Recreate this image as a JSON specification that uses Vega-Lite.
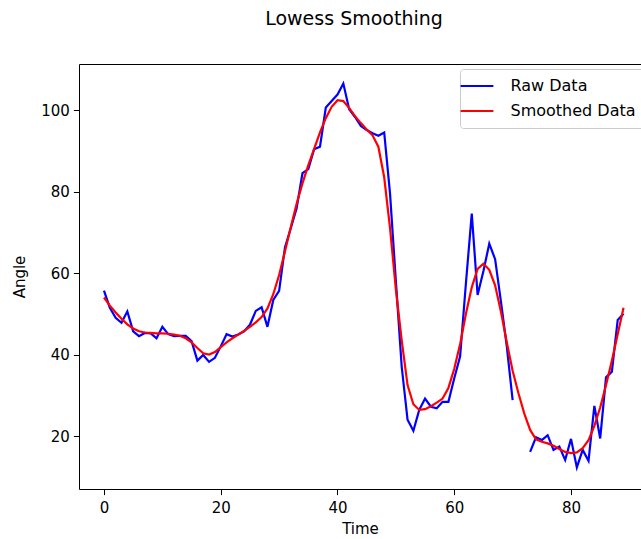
{
  "$schema": "https://vega.github.io/schema/vega-lite/v6.json",
  "width": 562,
  "height": 425,
  "autosize": {"type": "none"},
  "padding": {"left": 79, "top": 64, "right": 0, "bottom": 50},
  "background": "white",
  "title": {"text": "Lowess Smoothing", "anchor": "middle", "frame": "group", "dx": -6, "baseline": "alphabetic", "offset": 20, "fontSize": 19, "fontWeight": "normal", "font": "DejaVu Sans", "color": "black"},
  "datasets": {
    "raw": [
      {"time": 0, "angle": 55.7, "series": "Raw Data"},
      {"time": 1, "angle": 51.5, "series": "Raw Data"},
      {"time": 2, "angle": 49.0, "series": "Raw Data"},
      {"time": 3, "angle": 47.8, "series": "Raw Data"},
      {"time": 4, "angle": 50.6, "series": "Raw Data"},
      {"time": 5, "angle": 45.7, "series": "Raw Data"},
      {"time": 6, "angle": 44.5, "series": "Raw Data"},
      {"time": 7, "angle": 45.3, "series": "Raw Data"},
      {"time": 8, "angle": 45.2, "series": "Raw Data"},
      {"time": 9, "angle": 44.0, "series": "Raw Data"},
      {"time": 10, "angle": 46.8, "series": "Raw Data"},
      {"time": 11, "angle": 45.0, "series": "Raw Data"},
      {"time": 12, "angle": 44.5, "series": "Raw Data"},
      {"time": 13, "angle": 44.6, "series": "Raw Data"},
      {"time": 14, "angle": 44.6, "series": "Raw Data"},
      {"time": 15, "angle": 43.3, "series": "Raw Data"},
      {"time": 16, "angle": 38.5, "series": "Raw Data"},
      {"time": 17, "angle": 39.9, "series": "Raw Data"},
      {"time": 18, "angle": 38.2, "series": "Raw Data"},
      {"time": 19, "angle": 39.2, "series": "Raw Data"},
      {"time": 20, "angle": 42.0, "series": "Raw Data"},
      {"time": 21, "angle": 45.0, "series": "Raw Data"},
      {"time": 22, "angle": 44.4, "series": "Raw Data"},
      {"time": 23, "angle": 44.9, "series": "Raw Data"},
      {"time": 24, "angle": 45.7, "series": "Raw Data"},
      {"time": 25, "angle": 47.3, "series": "Raw Data"},
      {"time": 26, "angle": 50.7, "series": "Raw Data"},
      {"time": 27, "angle": 51.6, "series": "Raw Data"},
      {"time": 28, "angle": 46.8, "series": "Raw Data"},
      {"time": 29, "angle": 53.4, "series": "Raw Data"},
      {"time": 30, "angle": 55.6, "series": "Raw Data"},
      {"time": 31, "angle": 66.3, "series": "Raw Data"},
      {"time": 32, "angle": 71.0, "series": "Raw Data"},
      {"time": 33, "angle": 75.9, "series": "Raw Data"},
      {"time": 34, "angle": 84.5, "series": "Raw Data"},
      {"time": 35, "angle": 85.5, "series": "Raw Data"},
      {"time": 36, "angle": 90.4, "series": "Raw Data"},
      {"time": 37, "angle": 91.0, "series": "Raw Data"},
      {"time": 38, "angle": 100.6, "series": "Raw Data"},
      {"time": 39, "angle": 102.2, "series": "Raw Data"},
      {"time": 40, "angle": 103.8, "series": "Raw Data"},
      {"time": 41, "angle": 106.5, "series": "Raw Data"},
      {"time": 42, "angle": 100.2, "series": "Raw Data"},
      {"time": 43, "angle": 98.3, "series": "Raw Data"},
      {"time": 44, "angle": 96.1, "series": "Raw Data"},
      {"time": 45, "angle": 95.1, "series": "Raw Data"},
      {"time": 46, "angle": 94.3, "series": "Raw Data"},
      {"time": 47, "angle": 93.7, "series": "Raw Data"},
      {"time": 48, "angle": 94.5, "series": "Raw Data"},
      {"time": 49, "angle": 79.5, "series": "Raw Data"},
      {"time": 50, "angle": 58.0, "series": "Raw Data"},
      {"time": 51, "angle": 37.0, "series": "Raw Data"},
      {"time": 52, "angle": 24.0, "series": "Raw Data"},
      {"time": 53, "angle": 21.3, "series": "Raw Data"},
      {"time": 54, "angle": 26.4, "series": "Raw Data"},
      {"time": 55, "angle": 29.2, "series": "Raw Data"},
      {"time": 56, "angle": 27.2, "series": "Raw Data"},
      {"time": 57, "angle": 26.8, "series": "Raw Data"},
      {"time": 58, "angle": 28.4, "series": "Raw Data"},
      {"time": 59, "angle": 28.4, "series": "Raw Data"},
      {"time": 60, "angle": 34.2, "series": "Raw Data"},
      {"time": 61, "angle": 39.5, "series": "Raw Data"},
      {"time": 62, "angle": 57.5, "series": "Raw Data"},
      {"time": 63, "angle": 74.6, "series": "Raw Data"},
      {"time": 64, "angle": 54.6, "series": "Raw Data"},
      {"time": 65, "angle": 60.5, "series": "Raw Data"},
      {"time": 66, "angle": 67.2, "series": "Raw Data"},
      {"time": 67, "angle": 63.4, "series": "Raw Data"},
      {"time": 68, "angle": 53.0, "series": "Raw Data"},
      {"time": 69, "angle": 42.0, "series": "Raw Data"},
      {"time": 70, "angle": 28.8, "series": "Raw Data"},
      {"time": 71, "angle": null, "series": "Raw Data"},
      {"time": 72, "angle": null, "series": "Raw Data"},
      {"time": 73, "angle": 16.1, "series": "Raw Data"},
      {"time": 74, "angle": 19.7, "series": "Raw Data"},
      {"time": 75, "angle": 19.0, "series": "Raw Data"},
      {"time": 76, "angle": 20.2, "series": "Raw Data"},
      {"time": 77, "angle": 16.6, "series": "Raw Data"},
      {"time": 78, "angle": 17.4, "series": "Raw Data"},
      {"time": 79, "angle": 14.1, "series": "Raw Data"},
      {"time": 80, "angle": 19.3, "series": "Raw Data"},
      {"time": 81, "angle": 12.3, "series": "Raw Data"},
      {"time": 82, "angle": 16.6, "series": "Raw Data"},
      {"time": 83, "angle": 13.9, "series": "Raw Data"},
      {"time": 84, "angle": 27.4, "series": "Raw Data"},
      {"time": 85, "angle": 19.4, "series": "Raw Data"},
      {"time": 86, "angle": 34.4, "series": "Raw Data"},
      {"time": 87, "angle": 35.8, "series": "Raw Data"},
      {"time": 88, "angle": 48.5, "series": "Raw Data"},
      {"time": 89, "angle": 50.0, "series": "Raw Data"}
    ],
    "smoothed": [
      {"time": 0, "angle": 54.0, "series": "Smoothed Data"},
      {"time": 1, "angle": 52.0, "series": "Smoothed Data"},
      {"time": 2, "angle": 50.3, "series": "Smoothed Data"},
      {"time": 3, "angle": 48.8, "series": "Smoothed Data"},
      {"time": 4, "angle": 47.4, "series": "Smoothed Data"},
      {"time": 5, "angle": 46.4, "series": "Smoothed Data"},
      {"time": 6, "angle": 45.7, "series": "Smoothed Data"},
      {"time": 7, "angle": 45.4, "series": "Smoothed Data"},
      {"time": 8, "angle": 45.3, "series": "Smoothed Data"},
      {"time": 9, "angle": 45.2, "series": "Smoothed Data"},
      {"time": 10, "angle": 45.2, "series": "Smoothed Data"},
      {"time": 11, "angle": 45.1, "series": "Smoothed Data"},
      {"time": 12, "angle": 44.9, "series": "Smoothed Data"},
      {"time": 13, "angle": 44.6, "series": "Smoothed Data"},
      {"time": 14, "angle": 44.0, "series": "Smoothed Data"},
      {"time": 15, "angle": 43.0, "series": "Smoothed Data"},
      {"time": 16, "angle": 41.6, "series": "Smoothed Data"},
      {"time": 17, "angle": 40.3, "series": "Smoothed Data"},
      {"time": 18, "angle": 40.0, "series": "Smoothed Data"},
      {"time": 19, "angle": 40.6, "series": "Smoothed Data"},
      {"time": 20, "angle": 41.8, "series": "Smoothed Data"},
      {"time": 21, "angle": 43.0, "series": "Smoothed Data"},
      {"time": 22, "angle": 44.0, "series": "Smoothed Data"},
      {"time": 23, "angle": 44.9, "series": "Smoothed Data"},
      {"time": 24, "angle": 45.8, "series": "Smoothed Data"},
      {"time": 25, "angle": 46.8, "series": "Smoothed Data"},
      {"time": 26, "angle": 47.9, "series": "Smoothed Data"},
      {"time": 27, "angle": 49.2, "series": "Smoothed Data"},
      {"time": 28, "angle": 51.3, "series": "Smoothed Data"},
      {"time": 29, "angle": 54.8, "series": "Smoothed Data"},
      {"time": 30, "angle": 59.5, "series": "Smoothed Data"},
      {"time": 31, "angle": 65.3, "series": "Smoothed Data"},
      {"time": 32, "angle": 71.3, "series": "Smoothed Data"},
      {"time": 33, "angle": 77.0, "series": "Smoothed Data"},
      {"time": 34, "angle": 82.0, "series": "Smoothed Data"},
      {"time": 35, "angle": 86.5, "series": "Smoothed Data"},
      {"time": 36, "angle": 90.5, "series": "Smoothed Data"},
      {"time": 37, "angle": 94.5, "series": "Smoothed Data"},
      {"time": 38, "angle": 98.0, "series": "Smoothed Data"},
      {"time": 39, "angle": 100.8, "series": "Smoothed Data"},
      {"time": 40, "angle": 102.4, "series": "Smoothed Data"},
      {"time": 41, "angle": 102.2, "series": "Smoothed Data"},
      {"time": 42, "angle": 100.5, "series": "Smoothed Data"},
      {"time": 43, "angle": 98.5, "series": "Smoothed Data"},
      {"time": 44, "angle": 96.8, "series": "Smoothed Data"},
      {"time": 45, "angle": 95.2, "series": "Smoothed Data"},
      {"time": 46, "angle": 93.8, "series": "Smoothed Data"},
      {"time": 47, "angle": 91.0, "series": "Smoothed Data"},
      {"time": 48, "angle": 83.5, "series": "Smoothed Data"},
      {"time": 49, "angle": 71.0, "series": "Smoothed Data"},
      {"time": 50, "angle": 56.0, "series": "Smoothed Data"},
      {"time": 51, "angle": 43.5, "series": "Smoothed Data"},
      {"time": 52, "angle": 32.5, "series": "Smoothed Data"},
      {"time": 53, "angle": 27.8, "series": "Smoothed Data"},
      {"time": 54, "angle": 26.4, "series": "Smoothed Data"},
      {"time": 55, "angle": 26.6, "series": "Smoothed Data"},
      {"time": 56, "angle": 27.3, "series": "Smoothed Data"},
      {"time": 57, "angle": 28.2, "series": "Smoothed Data"},
      {"time": 58, "angle": 29.2, "series": "Smoothed Data"},
      {"time": 59, "angle": 31.8, "series": "Smoothed Data"},
      {"time": 60, "angle": 36.5, "series": "Smoothed Data"},
      {"time": 61, "angle": 42.5, "series": "Smoothed Data"},
      {"time": 62, "angle": 50.0, "series": "Smoothed Data"},
      {"time": 63, "angle": 56.5, "series": "Smoothed Data"},
      {"time": 64, "angle": 61.0, "series": "Smoothed Data"},
      {"time": 65, "angle": 62.3, "series": "Smoothed Data"},
      {"time": 66, "angle": 60.8, "series": "Smoothed Data"},
      {"time": 67, "angle": 57.0, "series": "Smoothed Data"},
      {"time": 68, "angle": 50.5, "series": "Smoothed Data"},
      {"time": 69, "angle": 43.0, "series": "Smoothed Data"},
      {"time": 70, "angle": 36.0, "series": "Smoothed Data"},
      {"time": 71, "angle": 30.5, "series": "Smoothed Data"},
      {"time": 72, "angle": 25.5, "series": "Smoothed Data"},
      {"time": 73, "angle": 21.5, "series": "Smoothed Data"},
      {"time": 74, "angle": 19.2, "series": "Smoothed Data"},
      {"time": 75, "angle": 18.6, "series": "Smoothed Data"},
      {"time": 76, "angle": 18.2, "series": "Smoothed Data"},
      {"time": 77, "angle": 17.6, "series": "Smoothed Data"},
      {"time": 78, "angle": 16.8, "series": "Smoothed Data"},
      {"time": 79, "angle": 16.1, "series": "Smoothed Data"},
      {"time": 80, "angle": 15.8, "series": "Smoothed Data"},
      {"time": 81, "angle": 16.0, "series": "Smoothed Data"},
      {"time": 82, "angle": 17.0, "series": "Smoothed Data"},
      {"time": 83, "angle": 19.0, "series": "Smoothed Data"},
      {"time": 84, "angle": 22.5, "series": "Smoothed Data"},
      {"time": 85, "angle": 27.0, "series": "Smoothed Data"},
      {"time": 86, "angle": 32.5, "series": "Smoothed Data"},
      {"time": 87, "angle": 38.5, "series": "Smoothed Data"},
      {"time": 88, "angle": 45.0, "series": "Smoothed Data"},
      {"time": 89, "angle": 51.5, "series": "Smoothed Data"}
    ]
  },
  "layer": [
    {
      "data": {"name": "raw"},
      "mark": {"type": "line", "strokeWidth": 2.2, "invalid": "break-paths-show-domains"},
      "encoding": {
        "x": {"field": "time", "type": "quantitative", "scale": {"domain": [-4.28, 91.99], "nice": false, "zero": false},
              "axis": {"title": "Time", "values": [0, 20, 40, 60, 80], "titlePadding": 6, "labelPadding": 5.5}},
        "y": {"field": "angle", "type": "quantitative", "scale": {"domain": [7.0, 111.3], "nice": false, "zero": false},
              "axis": {"title": "Angle", "values": [20, 40, 60, 80, 100], "titlePadding": 13}},
        "color": {"field": "series", "type": "nominal",
                  "scale": {"domain": ["Raw Data", "Smoothed Data"], "range": ["#0000ff", "#ff0000"]}}
      }
    },
    {
      "data": {"name": "smoothed"},
      "mark": {"type": "line", "strokeWidth": 2.2},
      "encoding": {
        "x": {"field": "time", "type": "quantitative", "scale": {"domain": [-4.28, 91.99], "nice": false, "zero": false},
              "axis": {"orient": "top", "title": null, "labels": false, "ticks": false, "domain": true}},
        "y": {"field": "angle", "type": "quantitative"},
        "color": {"field": "series", "type": "nominal"}
      }
    }
  ],
  "resolve": {"scale": {"x": "independent"}},
  "config": {
    "view": {"stroke": null},
    "axis": {
      "grid": false,
      "domainColor": "black", "domainWidth": 1,
      "tickColor": "black", "tickSize": 5.6, "tickWidth": 1,
      "labelFont": "DejaVu Sans", "labelFontSize": 15, "labelColor": "black", "labelPadding": 4,
      "titleFont": "DejaVu Sans", "titleFontSize": 15, "titleFontWeight": "normal", "titleColor": "black"
    },
    "legend": {
      "orient": "none", "legendX": 381, "legendY": 5,
      "title": null,
      "padding": 9,
      "fillColor": "rgba(255,255,255,0.8)",
      "strokeColor": "#cccccc",
      "cornerRadius": 3,
      "symbolType": "M-4.1,0H4.1",
      "symbolSize": 64,
      "symbolStrokeWidth": 2.2,
      "symbolFillColor": "transparent",
      "labelFont": "DejaVu Sans", "labelFontSize": 16, "labelColor": "black",
      "labelOffset": 25.5,
      "rowPadding": 9
    }
  }
}
